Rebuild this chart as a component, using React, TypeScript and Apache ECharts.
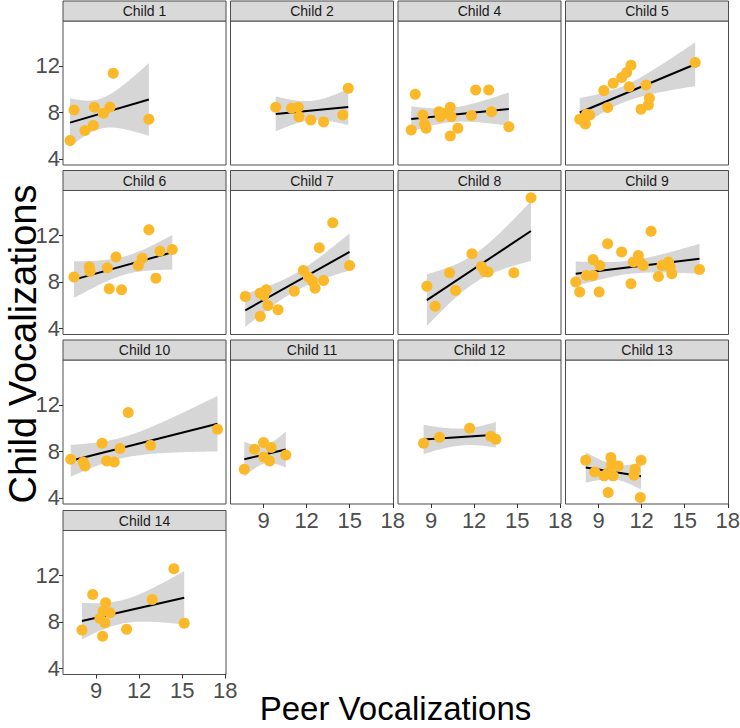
import React, { useEffect, useRef } from "react";
import * as echarts from "echarts";

// ---------- data ----------
const panelTitles = [
  "Child 1", "Child 2", "Child 4", "Child 5",
  "Child 6", "Child 7", "Child 8", "Child 9",
  "Child 10", "Child 11", "Child 12", "Child 13",
  "Child 14",
];

// [peer vocalizations, child vocalizations]
const child1 = [[7.19, 5.58], [7.47, 8.22], [8.23, 6.44], [8.81, 6.87], [8.88, 8.45], [9.51, 7.93], [9.97, 8.48], [10.2, 11.37], [12.68, 7.42]];
const child2 = [[9.85, 8.45], [10.95, 8.36], [11.42, 8.45], [11.47, 7.64], [12.29, 7.36], [13.18, 7.19], [14.52, 7.79], [14.9, 10.08]];
const child4 = [[7.62, 6.5], [7.9, 9.57], [8.43, 7.79], [8.55, 7.01], [8.66, 6.64], [9.55, 8.07], [9.64, 7.64], [9.83, 7.93], [10.34, 8.45], [10.41, 7.64], [10.34, 5.98], [10.87, 6.64], [11.81, 7.73], [12.11, 9.93], [13.02, 9.93], [13.21, 8.07], [14.42, 6.78]];
const child5 = [[7.69, 7.42], [8.09, 7.01], [8.16, 7.85], [8.39, 7.79], [9.37, 9.88], [9.63, 8.42], [10.02, 10.51], [10.61, 11.0], [10.96, 11.43], [11.26, 12.06], [11.14, 10.22], [11.96, 8.28], [12.31, 10.37], [12.47, 8.65], [12.54, 9.22], [15.73, 12.29]];
const child6 = [[7.47, 8.42], [8.53, 9.28], [8.58, 8.91], [9.79, 9.22], [10.39, 10.14], [9.92, 7.42], [10.78, 7.33], [11.94, 9.42], [12.22, 10.05], [12.68, 12.49], [13.17, 8.33], [13.45, 10.65], [14.31, 10.8]];
const child7 = [[7.73, 6.76], [8.77, 7.04], [9.02, 6.84], [9.19, 7.33], [9.31, 5.98], [8.77, 5.04], [10.01, 5.61], [11.14, 7.21], [11.77, 8.99], [12.12, 8.42], [12.41, 8.07], [12.59, 7.47], [12.88, 10.94], [13.18, 8.13], [13.82, 13.09], [14.99, 9.42]];
const child8 = [[8.71, 7.64], [9.29, 5.92], [10.29, 8.79], [10.71, 7.27], [11.85, 10.43], [12.51, 9.34], [12.74, 8.91], [12.97, 8.85], [14.77, 8.79], [15.96, 15.24]];
const child9 = [[7.41, 7.99], [7.69, 7.13], [8.16, 8.56], [8.62, 8.56], [8.62, 9.94], [9.09, 9.42], [9.04, 7.13], [9.63, 11.29], [10.61, 10.57], [11.26, 7.85], [11.42, 9.71], [11.77, 10.28], [11.89, 9.71], [12.12, 9.42], [12.66, 12.37], [13.17, 8.48], [13.41, 9.42], [13.87, 9.71], [14.1, 8.71], [13.99, 9.28], [16.03, 9.08]];
const child10 = [[7.24, 7.33], [8.11, 7.1], [8.23, 6.76], [9.43, 8.71], [9.74, 7.19], [10.27, 7.1], [10.67, 8.25], [11.24, 11.35], [12.8, 8.54], [17.46, 9.91]];
const child11 = [[7.66, 6.47], [8.37, 8.19], [9.0, 8.77], [9.02, 7.53], [9.54, 8.34], [9.42, 7.19], [10.55, 7.7]];
const child12 = [[8.48, 8.71], [9.59, 9.22], [11.69, 10.0], [13.16, 9.31], [13.51, 9.05]];
const child13 = [[8.11, 7.25], [8.74, 6.24], [9.39, 5.9], [9.67, 4.47], [9.86, 7.48], [9.91, 6.9], [10.02, 5.9], [10.37, 6.76], [9.67, 6.19], [11.54, 6.47], [11.47, 5.96], [11.96, 7.25], [11.91, 4.04]];
const child14 = [[8.02, 7.3], [8.77, 10.37], [9.27, 8.3], [9.46, 6.78], [9.5, 8.93], [9.62, 7.93], [9.67, 9.65], [9.97, 8.79], [11.13, 7.38], [12.91, 9.94], [14.42, 12.58], [15.14, 7.9]];

const panelData = [child1, child2, child4, child5, child6, child7, child8, child9, child10, child11, child12, child13, child14];

const xTicks = [9, 12, 15, 18];
const yTicks = [4, 8, 12];
const xRange = [6.7, 18.05];
const yRange = [3.48, 15.87];

// t quantiles (0.975) by degrees of freedom, for the 95% confidence band
const T975 = [0, 12.706, 4.303, 3.182, 2.776, 2.571, 2.447, 2.365, 2.306, 2.262, 2.228, 2.201, 2.179, 2.16, 2.145, 2.131, 2.12, 2.11, 2.101, 2.093, 2.086, 2.08, 2.074, 2.069, 2.064, 2.06];

// ---------- layout ----------
const colLeft = [63, 230.5, 398, 565.5];
const rowTop = [1, 170.5, 340, 510.5];
const stripH = 20;
const panelW = 163;
const panelH = 144;
const FONT = '"Liberation Sans", Arial, Helvetica, sans-serif';
const POINT = "#FBB829";
const BORDER = "#4d4d4d";

function fitLm(pts: number[][]) {
  const n = pts.length;
  let mx = 0, my = 0;
  pts.forEach(([x, y]) => { mx += x; my += y; });
  mx /= n; my /= n;
  let sxx = 0, sxy = 0;
  pts.forEach(([x, y]) => { sxx += (x - mx) * (x - mx); sxy += (x - mx) * (y - my); });
  const b = sxy / sxx;
  const a = my - b * mx;
  let sse = 0;
  pts.forEach(([x, y]) => { const r = y - a - b * x; sse += r * r; });
  const s = Math.sqrt(sse / (n - 2));
  const t = T975[Math.min(n - 2, T975.length - 1)];
  const xs = pts.map((p) => p[0]);
  const x0 = Math.min(...xs), x1 = Math.max(...xs);
  const upper: number[][] = [], lower: number[][] = [];
  const N = 80;
  for (let i = 0; i < N; i++) {
    const x = x0 + ((x1 - x0) * i) / (N - 1);
    const yh = a + b * x;
    const se = s * Math.sqrt(1 / n + ((x - mx) * (x - mx)) / sxx);
    upper.push([x, yh + t * se]);
    lower.push([x, yh - t * se]);
  }
  return { line: [[x0, a + b * x0], [x1, a + b * x1]], upper, lower };
}

export default function App() {
  const ref = useRef<HTMLDivElement>(null);
  useEffect(() => {
    if (!ref.current) return;
    const chart = echarts.init(ref.current, undefined, { renderer: "svg" });
    const grids: any[] = [], xAxes: any[] = [], yAxes: any[] = [], series: any[] = [], graphics: any[] = [];
    panelData.forEach((pts, k) => {
      const r = Math.floor(k / 4), c = k % 4;
      const showX = k >= 9;
      const showY = c === 0;
      grids.push({
        left: colLeft[c], top: rowTop[r] + stripH, width: panelW, height: panelH,
        show: true, borderColor: BORDER, borderWidth: 1, backgroundColor: "#ffffff",
        containLabel: false, outerBoundsMode: "none",
      });
      xAxes.push({
        type: "value", gridIndex: k, min: xRange[0], max: xRange[1],
        splitLine: { show: false }, axisLine: { show: false },
        axisTick: { show: showX, length: 4, customValues: xTicks, lineStyle: { color: "#333333", width: 1 } },
        axisLabel: { show: showX, customValues: xTicks, fontSize: 22, color: "#4d4d4d", margin: 5, fontFamily: FONT },
      });
      yAxes.push({
        type: "value", gridIndex: k, min: yRange[0], max: yRange[1],
        splitLine: { show: false }, axisLine: { show: false },
        axisTick: { show: showY, length: 4, customValues: yTicks, lineStyle: { color: "#333333", width: 1 } },
        axisLabel: { show: showY, customValues: yTicks, fontSize: 22, color: "#4d4d4d", margin: 3, fontFamily: FONT },
      });
      const fit = fitLm(pts);
      const band = [...fit.upper, ...fit.lower.slice().reverse()];
      series.push({
        type: "custom", xAxisIndex: k, yAxisIndex: k, z: 1, silent: true, clip: true,
        data: [fit.line[0]],
        renderItem: (_p: any, api: any) => ({
          type: "polygon",
          shape: { points: band.map((q) => api.coord(q)) },
          style: { fill: "#d6d6d6" },
        }),
      });
      series.push({
        type: "line", xAxisIndex: k, yAxisIndex: k, z: 2, silent: true,
        data: fit.line, symbol: "none", lineStyle: { color: "#000000", width: 2 },
      });
      series.push({
        type: "scatter", xAxisIndex: k, yAxisIndex: k, z: 3, silent: true,
        data: pts, symbolSize: 11, itemStyle: { color: POINT, opacity: 1 },
      });
      graphics.push({
        type: "rect", x: colLeft[c], y: rowTop[r],
        shape: { x: 0, y: 0, width: panelW, height: stripH },
        style: { fill: "#d9d9d9", stroke: BORDER, lineWidth: 1 },
      });
      graphics.push({
        type: "text", x: colLeft[c] + panelW / 2, y: rowTop[r] + stripH / 2,
        style: {
          text: panelTitles[k], fontSize: 14, fontWeight: "normal", fontFamily: FONT, fill: "#1a1a1a",
          textAlign: "center", textVerticalAlign: "middle", align: "center", verticalAlign: "middle",
        },
      });
    });
    graphics.push({
      type: "text", x: 395.5, y: 708,
      style: {
        text: "Peer Vocalizations", fontSize: 33, fontFamily: FONT, fill: "#000000",
        textAlign: "center", textVerticalAlign: "middle", align: "center", verticalAlign: "middle",
      },
    });
    graphics.push({
      type: "text", x: 23, y: 344, rotation: Math.PI / 2,
      style: {
        text: "Child Vocalizations", fontSize: 38, fontFamily: FONT, fill: "#000000",
        textAlign: "center", textVerticalAlign: "middle", align: "center", verticalAlign: "middle",
      },
    });
    chart.setOption({
      animation: false,
      backgroundColor: "#ffffff",
      grid: grids,
      xAxis: xAxes,
      yAxis: yAxes,
      series,
      graphic: { elements: graphics },
    });
    return () => chart.dispose();
  }, []);
  return (
    <div
      ref={ref}
      style={{ position: "absolute", left: 0, top: 0, width: 740, height: 728, background: "#fff" }}
    />
  );
}
